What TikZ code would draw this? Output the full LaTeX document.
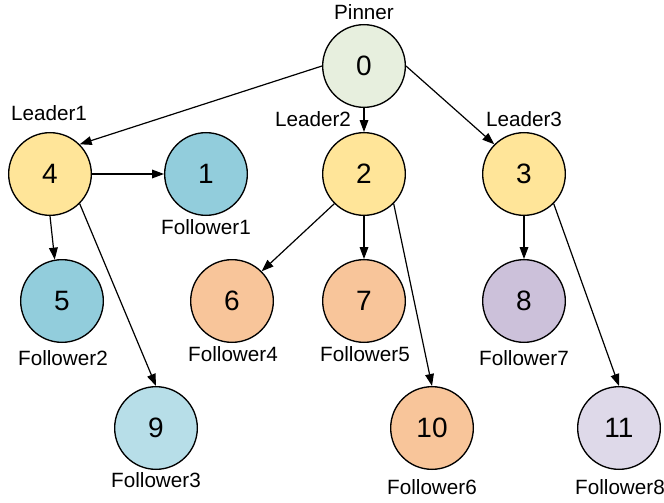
\documentclass[tikz,border=0pt]{standalone}
\usepackage{fontspec}
\setmainfont{Liberation Sans}
\usetikzlibrary{arrows.meta}
\definecolor{pinner}{RGB}{231,239,222}
\definecolor{leader}{RGB}{255,229,153}
\definecolor{sky}{RGB}{146,205,220}
\definecolor{skylt}{RGB}{183,222,232}
\definecolor{peach}{RGB}{248,197,154}
\definecolor{lilac}{RGB}{204,193,218}
\definecolor{lilaclt}{RGB}{222,217,233}

\begin{document}
\begin{tikzpicture}[x=0.75pt,y=-0.75pt,
    peer/.style={circle,draw=black,line width=1pt,minimum size=62pt,inner sep=0pt,
      font=\fontsize{21}{21}\selectfont},
    tag/.style={inner sep=0pt,font=\fontsize{15.5}{16}\selectfont},
    link/.style={-{Triangle[length=9pt,width=6.5pt]},line width=0.9pt}]
  \useasboundingbox (0,0) rectangle (664,503);
  % nodes: name/x/y/colour/label x/label y/label
  \foreach \n/\x/\y/\c/\lx/\ly/\t in {
    0/364/66/pinner/364/12/Pinner,
    4/50/174/leader/49/113/Leader1,
    1/206/174/sky/206/227/Follower1,
    2/364/174/leader/313/119/Leader2,
    3/524/174/leader/524/119/Leader3,
    5/62/301/sky/63/358/Follower2,
    9/156/428/skylt/156/480/Follower3,
    6/232/301/peach/233/354/Follower4,
    7/364/301/peach/365/354/Follower5,
    10/432/428/peach/432/487/Follower6,
    8/524/301/lilac/524/358/Follower7,
    11/619/428/lilaclt/620/487/Follower8}
  {
    \node[peer,fill=\c] (n\n) at (\x,\y) {\n};
    \node[tag] (t\n) at (\lx,\ly) {\t};
  }
  % connectors
  \foreach \a/\p/\b/\q in {0/west/4/45, 0/south/2/north, 0/east/3/135,
    4/east/1/west, 4/south/5/100, 4/-45/9/north,
    2/-135/6/45, 2/south/7/north, 2/-45/10/north,
    3/south/8/north, 3/-45/11/north}
    \draw[link] (n\a.\p) -- (n\b.\q);
\end{tikzpicture}
\end{document}
